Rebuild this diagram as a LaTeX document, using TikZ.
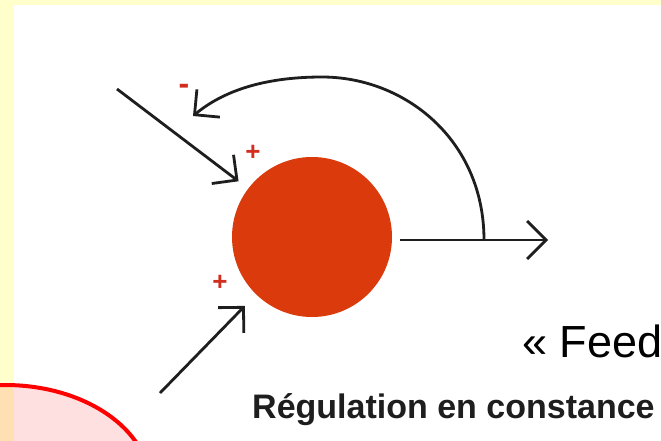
\documentclass[tikz,border=0pt]{standalone}
\usepackage{fontspec}
\setmainfont{Liberation Sans}
\usetikzlibrary{arrows.meta}
\definecolor{bgyellow}{RGB}{255,255,204}
\definecolor{ballred}{RGB}{218,58,12}
\definecolor{signred}{RGB}{210,45,30}
\definecolor{ink}{RGB}{30,30,30}
\tikzset{
  arr/.style={draw=ink, line width=2.8pt, -{Straight Barb[length=18pt,width=36pt,line width=2.8pt]}},
  sign/.style={text=signred, font=\bfseries\fontsize{26}{26}\selectfont, inner sep=0pt},
}
\begin{document}
\begin{tikzpicture}[x=1pt,y=-1pt]
\useasboundingbox (0,0) rectangle (661,441);
\fill[bgyellow] (0,0) rectangle (661,441);
\fill[white] (14,5) rectangle (661,441);
% red highlight ellipse (bottom left)
\draw[red, line width=4pt, fill=red, fill opacity=0.12] (5,485) ellipse [x radius=145pt, y radius=100pt];
% central element
\node[circle, fill=ballred, draw=none, minimum size=160pt, inner sep=0pt] (c) at (312,237) {};
% inputs
\coordinate (in1) at (117,89);
\coordinate (in2) at (160,393);
\draw[arr, shorten >=12pt] (in1) -- (c);
\draw[arr, shorten >=16pt] (in2) -- (c);
% output
\coordinate (o1) at (400,240);
\coordinate (out) at (548,240);
\coordinate (fb) at (484,240);
\coordinate (fbend) at (193,116);
\draw[arr, -{Straight Barb[length=19pt,width=38pt,line width=2.8pt]}] (o1) -- (out);
% feedback loop
\draw[arr] (fb) .. controls (484,140) and (405,77) .. (322,77)
  .. controls (262,77) and (222,92) .. (fbend);
% signs
\node[sign, font=\bfseries\fontsize{32}{32}\selectfont] (m) at (184,89) {-};
\node[sign] (p1) at (253,153) {+};
\node[sign] (p2) at (220,283) {+};
% texts
\node[anchor=base west, inner sep=0pt, text=black, font=\fontsize{45}{54}\selectfont] (fbtext) at (522,357) {« Feed};
\node[anchor=base west, inner sep=0pt, text=ink, font=\bfseries\fontsize{34}{40}\selectfont] (reg) at (252,418) {Régulation en constance};
\end{tikzpicture}
\end{document}
